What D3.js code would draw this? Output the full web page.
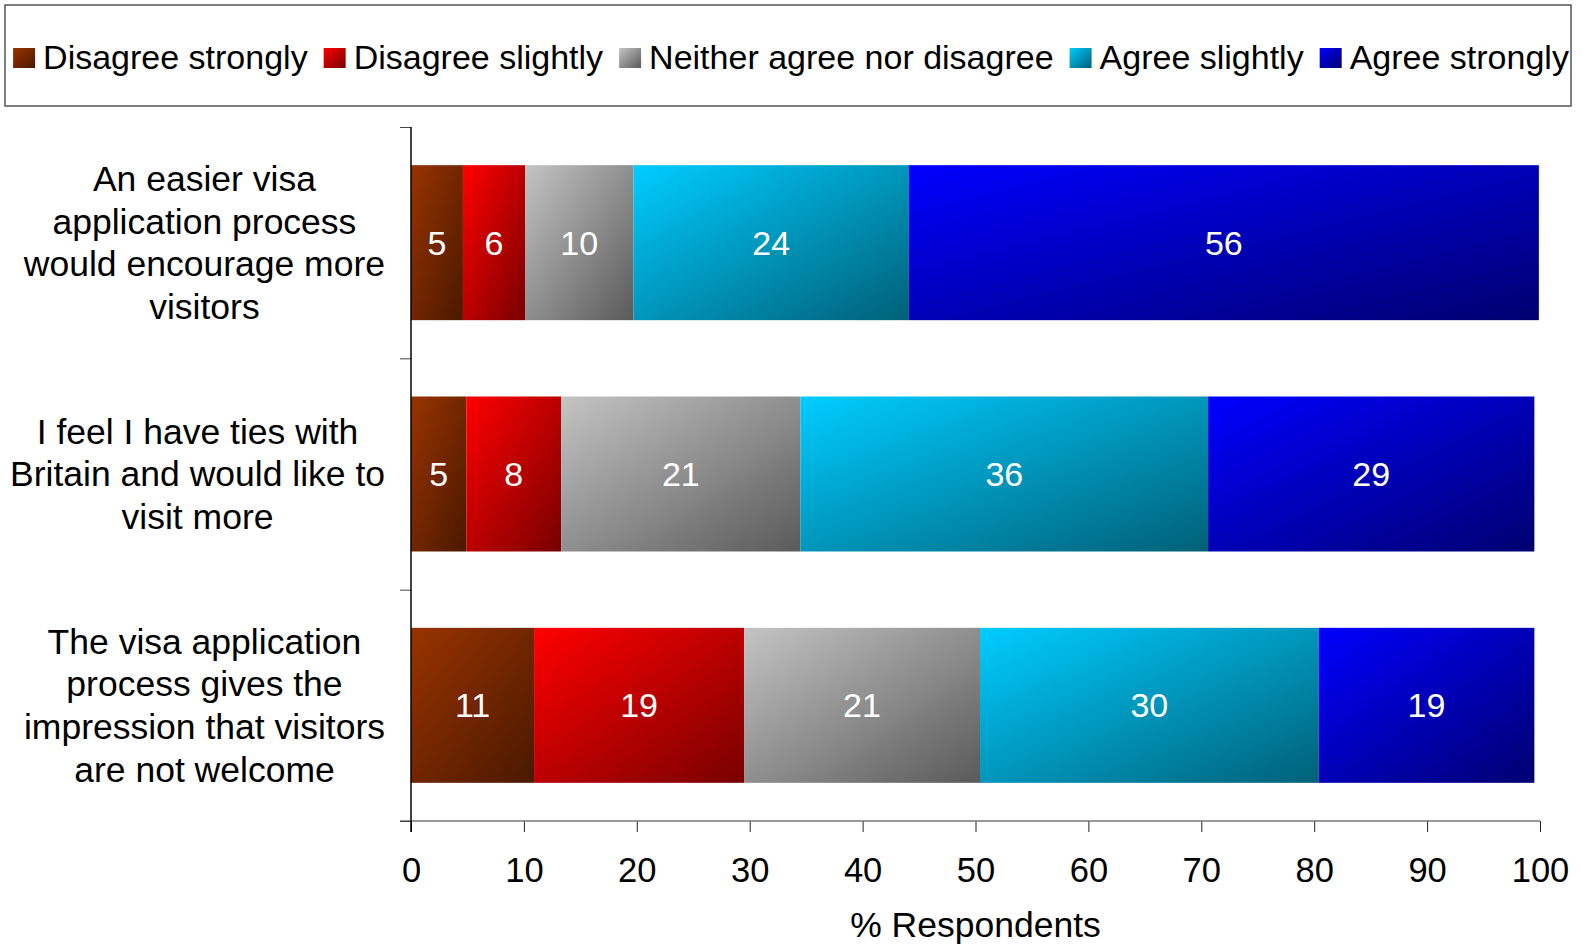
<!DOCTYPE html>
<html>
<head>
<meta charset="utf-8">
<script src="https://cdn.jsdelivr.net/npm/d3@7"></script>
<style>
  body { margin: 0; background: #fff; }
  text { font-family: "Liberation Sans", Arial, sans-serif; }
</style>
</head>
<body>
<div id="chart"></div>
<script>
// category labels, already wrapped the way the original shows them
var categories = [
  ["An easier visa", "application process", "would encourage more", "visitors"],
  ["I feel I have ties with", "Britain and would like to", "visit more"],
  ["The visa application", "process gives the", "impression that visitors", "are not welcome"]
];

var seriesNames = ["Disagree strongly", "Disagree slightly", "Neither agree nor disagree", "Agree slightly", "Agree strongly"];

// % respondents per statement
var disagreeStrongly = [4.6, 4.9, 10.9];
var disagreeSlightly = [5.5, 8.4, 18.6];
var neitherAgree     = [9.6, 21.2, 20.9];
var agreeSlightly    = [24.4, 36.1, 30.0];
var agreeStrongly    = [55.8, 28.9, 19.1];

var xTicks = [0, 10, 20, 30, 40, 50, 60, 70, 80, 90, 100];

// light (top-left) -> dark (bottom-right) for each series
var gradStops = [
  ["#993300", "#4a1800"],
  ["#ff0000", "#780000"],
  ["#c4c4c4", "#5a5a5a"],
  ["#00ccff", "#006078"],
  ["#0000ff", "#000070"]
];

var W = 1583, H = 945;
var plot = {left: 411, right: 1540, top: 127, bottom: 821};

var rows = categories.map(function(c, i) {
  var r = {idx: i};
  r[seriesNames[0]] = disagreeStrongly[i];
  r[seriesNames[1]] = disagreeSlightly[i];
  r[seriesNames[2]] = neitherAgree[i];
  r[seriesNames[3]] = agreeSlightly[i];
  r[seriesNames[4]] = agreeStrongly[i];
  return r;
});

var stacked = d3.stack().keys(seriesNames)(rows);

var x = d3.scaleLinear().domain([0, 100]).range([plot.left, plot.right]);
var y = d3.scaleBand()
  .domain(d3.range(categories.length))
  .range([plot.top, plot.bottom])
  .paddingInner(0.33)
  .paddingOuter(0.165);
// band boundaries for the category axis ticks
var yEdge = d3.scaleLinear().domain([0, categories.length]).range([plot.top, plot.bottom]);

var svg = d3.select("#chart").append("svg")
  .attr("width", W)
  .attr("height", H);

var defs = svg.append("defs");
gradStops.forEach(function(s, i) {
  var g = defs.append("linearGradient")
    .attr("id", "grad" + i)
    .attr("x1", 0).attr("y1", 0).attr("x2", 1).attr("y2", 1);
  g.append("stop").attr("offset", "0%").attr("stop-color", s[0]);
  g.append("stop").attr("offset", "100%").attr("stop-color", s[1]);
});

// legend box
var legend = svg.append("g");
legend.append("rect")
  .attr("x", 5).attr("y", 5)
  .attr("width", 1566).attr("height", 101)
  .attr("fill", "#fff")
  .attr("stroke", "#555")
  .attr("stroke-width", 1.5);

var items = legend.append("g");
var cx = 0;
seriesNames.forEach(function(name, i) {
  var it = items.append("g").attr("transform", "translate(" + cx + ",0)");
  it.append("rect")
    .attr("x", 0).attr("y", 48)
    .attr("width", 22).attr("height", 20)
    .attr("fill", "url(#grad" + i + ")");
  var t = it.append("text")
    .attr("x", 30).attr("y", 69)
    .attr("font-size", 34)
    .attr("fill", "#000")
    .text(name);
  cx += 30 + t.node().getComputedTextLength() + 16;
});
var legendW = cx - 16;
items.attr("transform", "translate(" + (791 - legendW / 2) + ",0)");

// bars
var layer = svg.selectAll(".series")
  .data(stacked)
  .enter().append("g")
  .attr("class", "series");

layer.selectAll("rect")
  .data(function(d, i) { return d.map(function(p) { return {p: p, s: i}; }); })
  .enter().append("rect")
  .attr("x", function(d) { return x(d.p[0]); })
  .attr("y", function(d) { return y(d.p.data.idx); })
  .attr("width", function(d) { return x(d.p[1]) - x(d.p[0]); })
  .attr("height", y.bandwidth())
  .attr("fill", function(d) { return "url(#grad" + d.s + ")"; });

layer.selectAll("text")
  .data(function(d) { return d; })
  .enter().append("text")
  .attr("x", function(d) { return (x(d[0]) + x(d[1])) / 2; })
  .attr("y", function(d) { return y(d.data.idx) + y.bandwidth() / 2; })
  .attr("dy", "0.35em")
  .attr("text-anchor", "middle")
  .attr("font-size", 34)
  .attr("fill", "#fff")
  .text(function(d) { return Math.round(d[1] - d[0]); });

// x axis
var xAxis = svg.append("g")
  .attr("transform", "translate(0," + plot.bottom + ")")
  .call(d3.axisBottom(x).tickValues(xTicks).tickSize(11).tickPadding(26).tickSizeOuter(0));
xAxis.select(".domain").remove();
xAxis.selectAll(".tick line").attr("stroke", "#222");
xAxis.selectAll(".tick text")
  .attr("font-size", 34.5)
  .attr("font-family", "Liberation Sans, Arial, sans-serif")
  .attr("fill", "#000");
svg.append("line")
  .attr("x1", plot.left - 11).attr("x2", plot.right)
  .attr("y1", plot.bottom).attr("y2", plot.bottom)
  .attr("stroke", "#777").attr("stroke-width", 1.5);

// category axis: ticks sit on band edges
var yAxis = svg.append("g")
  .attr("transform", "translate(" + plot.left + ",0)")
  .call(d3.axisLeft(yEdge).tickValues(d3.range(categories.length + 1)).tickSize(11).tickFormat(""));
yAxis.select(".domain").remove();
yAxis.selectAll(".tick line").attr("stroke", "#444");
svg.append("line")
  .attr("x1", plot.left).attr("x2", plot.left)
  .attr("y1", plot.top).attr("y2", plot.bottom + 11)
  .attr("stroke", "#000").attr("stroke-width", 1.5);

// category labels, block right edge near the axis, lines centred in the block
var lineH = 42.6;
categories.forEach(function(lines, i) {
  var t = svg.append("text")
    .attr("text-anchor", "middle")
    .attr("font-size", 35.5)
    .attr("fill", "#000");
  var mid = y(i) + y.bandwidth() / 2;
  var first = mid - (lines.length - 1) / 2 * lineH;
  var spans = lines.map(function(l, k) {
    return t.append("tspan").attr("y", first + k * lineH).attr("dy", "0.35em").text(l);
  });
  var maxW = d3.max(spans, function(s) { return s.node().getComputedTextLength(); });
  var cxl = 385 - maxW / 2;
  spans.forEach(function(s) { s.attr("x", cxl); });
});

// axis title
svg.append("text")
  .attr("x", (plot.left + plot.right) / 2)
  .attr("y", 937)
  .attr("text-anchor", "middle")
  .attr("font-size", 35.5)
  .attr("fill", "#000")
  .text("% Respondents");
</script>
</body>
</html>
